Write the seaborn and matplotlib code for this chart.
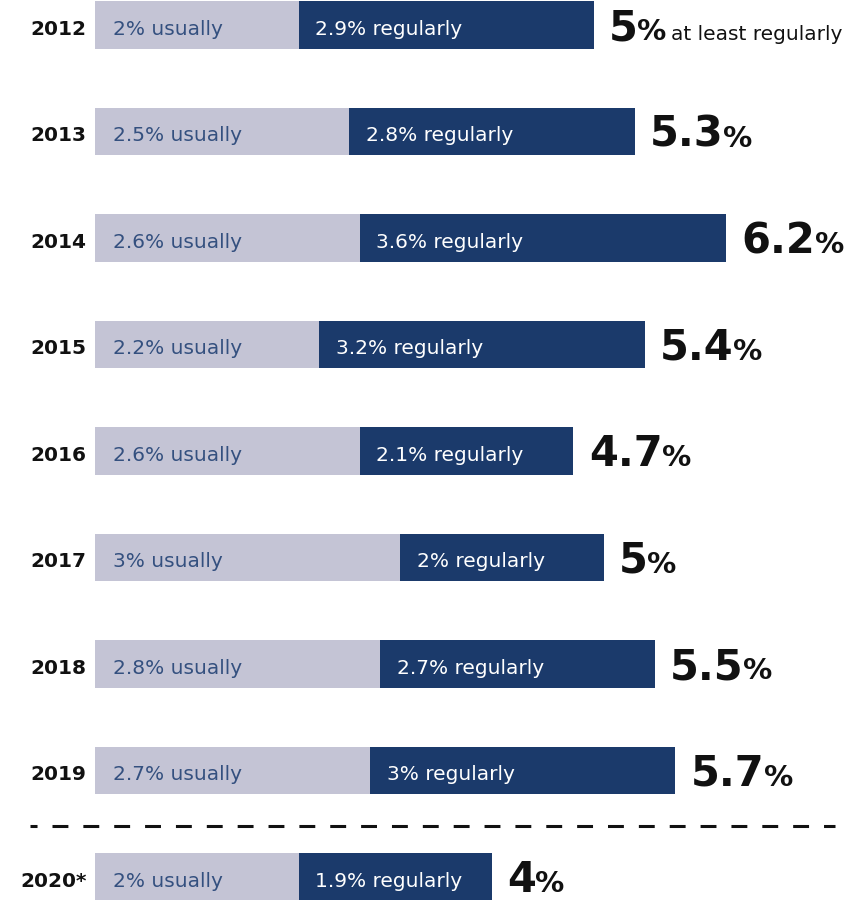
import matplotlib
matplotlib.use("Agg")
import matplotlib.pyplot as plt
import pandas as pd
import seaborn as sns

# ------------------------------------------------------------------
# Data
# ------------------------------------------------------------------
years = ["2012", "2013", "2014", "2015", "2016", "2017", "2018", "2019", "2020*"]
usually = [2, 2.5, 2.6, 2.2, 2.6, 3, 2.8, 2.7, 2]
regularly = [2.9, 2.8, 3.6, 3.2, 2.1, 2, 2.7, 3, 1.9]
totals = ["5", "5.3", "6.2", "5.4", "4.7", "5", "5.5", "5.7", "4"]

LIGHT = "#c4c4d5"
DARK = "#1b3a6b"
LIGHT_TEXT = "#34507f"
INK = "#111111"

sns.set_theme(style="white")
plt.rcParams["font.family"] = ["DejaVu Sans"]

df = pd.DataFrame({"year": years, "usually": usually, "regularly": regularly})
df["stack"] = df["usually"] + df["regularly"]

fig = plt.figure(figsize=(8.46, 9), dpi=100)
ax = fig.add_axes([0, 0, 1, 1])

# dark bar = full stack, light bar drawn on top = "usually" part
bar_kw = dict(orient="h", width=0.45, saturation=1, linewidth=0, errorbar=None, ax=ax)
sns.barplot(data=df, y="year", x="stack", color=DARK, **bar_kw)
sns.barplot(data=df, y="year", x="usually", color=LIGHT, **bar_kw)

# ------------------------------------------------------------------
# Labels
# ------------------------------------------------------------------
for i, row in df.iterrows():
    ax.annotate(row["year"], xy=(0, i + 0.092), xytext=(-6, 0),
                textcoords="offset points", ha="right", va="baseline",
                fontsize=14.5, fontweight="bold", color=INK)
    ax.annotate(f"{row['usually']:g}% usually", xy=(0, i + 0.09), xytext=(13, 0),
                textcoords="offset points", ha="left", va="baseline",
                fontsize=14.5, color=LIGHT_TEXT)
    ax.annotate(f"{row['regularly']:g}% regularly", xy=(row["usually"], i + 0.09),
                xytext=(12, 0), textcoords="offset points", ha="left",
                va="baseline", fontsize=14.5, color="white")

    num = ax.annotate(totals[i], xy=(row["stack"], i + 0.145), xytext=(11, 0),
                      textcoords="offset points", ha="left", va="baseline",
                      fontsize=30, fontweight="bold", color=INK)
    pct = ax.annotate("%", xy=(1, i + 0.145), xycoords=(num, "data"), xytext=(-0.5, 0),
                      textcoords="offset points", ha="left", va="baseline",
                      fontsize=21, fontweight="bold", color=INK)
    if i == 0:
        ax.annotate("at least regularly", xy=(1, i + 0.145), xycoords=(pct, "data"),
                    xytext=(3, 0), textcoords="offset points", ha="left",
                    va="baseline", fontsize=14.5, color=INK)

# separator before the 2020 estimate
ax.axhline(7.52, xmin=30 / 846, xmax=835 / 846, color=INK, lw=2.2,
           linestyle=(2.9, (5.2, 4.9)))

ax.set_xlim(-0.933, 7.377)
ax.set_ylim(8.216, -0.235)
ax.axis("off")

fig.savefig("out.png", dpi=100)
